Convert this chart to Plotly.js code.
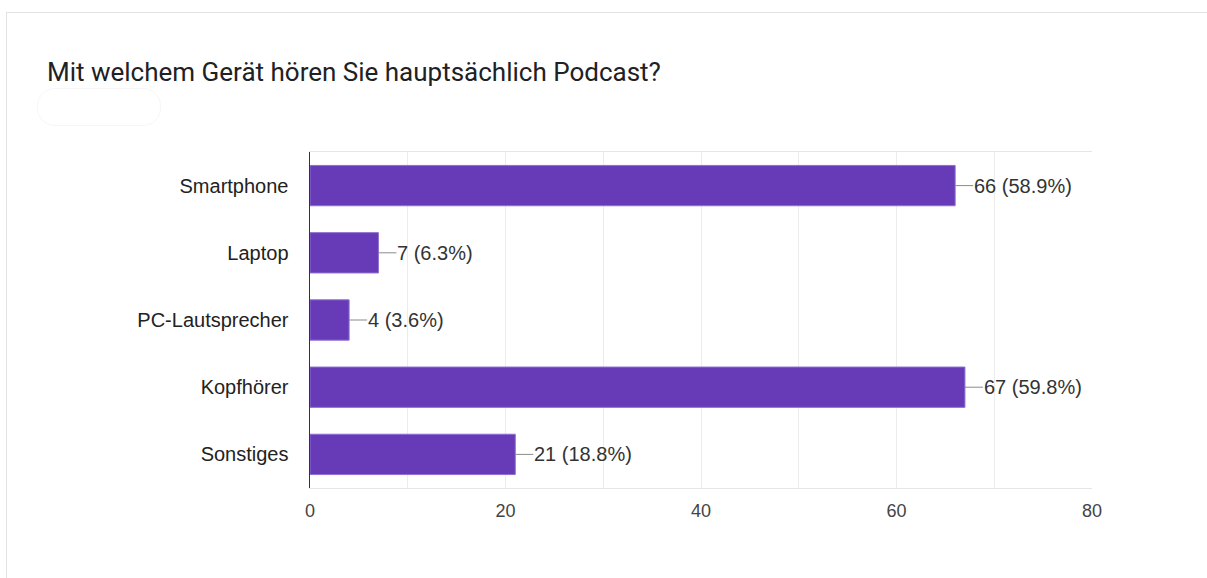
<!DOCTYPE html>
<html>
<head>
<meta charset="utf-8">
<script src="https://cdn.plot.ly/plotly-3.0.1.min.js"></script>
<style>
  html, body { margin: 0; padding: 0; background: #fff; width: 1207px; height: 578px; overflow: hidden; }
  #chart { position: absolute; left: 0; top: 0; width: 1207px; height: 578px; }
  #card { position: absolute; left: 6px; top: 12px; width: 1220px; height: 600px; border: 1.5px solid #e3e3e3; pointer-events: none; }
  #smudge { position: absolute; left: 37px; top: 88px; width: 122px; height: 36px; border: 1px solid #f6f6f6; border-radius: 18px; pointer-events: none; }
</style>
</head>
<body>
<div id="chart"></div>
<div id="card"></div>
<div id="smudge"></div>
<script>
const titleText = "Mit welchem Gerät hören Sie hauptsächlich Podcast?";
const categories = ["Smartphone", "Laptop", "PC-Lautsprecher", "Kopfhörer", "Sonstiges"];
const counts = [66, 7, 4, 67, 21];
const percents = ["58.9%", "6.3%", "3.6%", "59.8%", "18.8%"];
const xTicks = [0, 20, 40, 60, 80];

const trace = {
  type: "bar",
  orientation: "h",
  y: categories,
  x: counts,
  width: 0.6,
  marker: { color: "#673ab7", line: { color: "#8f6fd0", width: 1 } },
  hoverinfo: "none"
};

const annotations = categories.map((c, i) => ({
  x: counts[i],
  y: c,
  xref: "x",
  yref: "y",
  text: counts[i] + " (" + percents[i] + ")",
  showarrow: true,
  arrowhead: 0,
  arrowwidth: 1,
  arrowcolor: "#8a8a8a",
  ax: 18,
  ay: 0,
  xanchor: "left",
  borderpad: 0,
  font: { family: "Liberation Sans, Arial, sans-serif", size: 20, color: "#333333" }
}));

const layout = {
  width: 1207,
  height: 578,
  margin: { l: 310, r: 115, t: 152, b: 90 },
  paper_bgcolor: "#ffffff",
  plot_bgcolor: "#ffffff",
  showlegend: false,
  title: {
    text: titleText,
    x: 47 / 1207,
    xanchor: "left",
    xref: "container",
    y: 1 - 72 / 578,
    yanchor: "middle",
    yref: "container",
    font: { family: "Roboto, sans-serif", size: 26, color: "#202124" }
  },
  xaxis: {
    range: [0, 80],
    tickvals: xTicks,
    ticktext: xTicks.map(String),
    showgrid: true,
    gridcolor: "#ececec",
    gridwidth: 1,
    minor: { dtick: 10, showgrid: true, gridcolor: "#ececec", gridwidth: 1 },
    zeroline: false,
    showline: true,
    linecolor: "#e6e6e6",
    linewidth: 1,
    mirror: true,
    ticks: "",
    ticklabelstandoff: 6,
    tickfont: { family: "Liberation Sans, Arial, sans-serif", size: 18, color: "#444444" },
    fixedrange: true
  },
  yaxis: {
    type: "category",
    categoryorder: "array",
    categoryarray: categories,
    autorange: "reversed",
    showgrid: false,
    zeroline: false,
    showline: true,
    linecolor: "#333333",
    linewidth: 1.5,
    ticks: "",
    ticklabelstandoff: 16,
    tickfont: { family: "Liberation Sans, Arial, sans-serif", size: 20, color: "#222222" },
    fixedrange: true
  },
  annotations: annotations
};

Plotly.newPlot("chart", [trace], layout, { displayModeBar: false, staticPlot: true });
</script>
</body>
</html>
